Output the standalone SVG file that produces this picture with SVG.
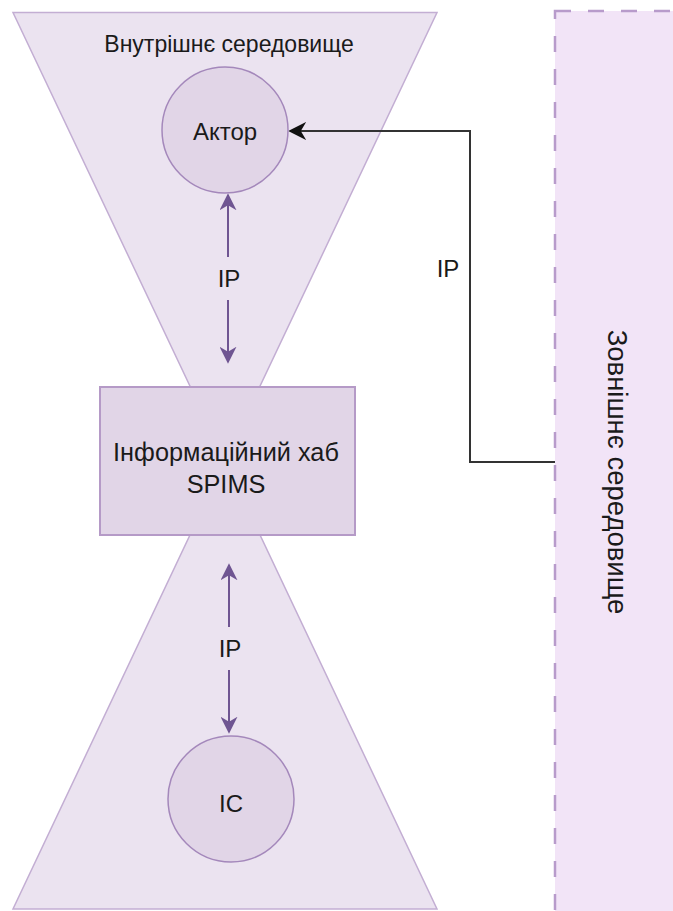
<svg xmlns="http://www.w3.org/2000/svg" width="673" height="911" viewBox="0 0 673 911">
  <style>
    text { font-family: "Liberation Sans", Arial, sans-serif; fill: #1a1a1a; text-anchor: middle; dominant-baseline: central; }
    .zone { fill: #ebe3f0; stroke: #c3aed3; stroke-width: 1.5; }
    .node { fill: #e1d5e7; stroke: #a488bb; stroke-width: 1.5; }
    .hub { fill: #e1d5e7; stroke: #b59ac7; stroke-width: 2; }
    .ext { fill: #f2e4f7; stroke: #b89bcb; stroke-width: 2.5; stroke-dasharray: 16 17; }
    .link { fill: none; stroke: #6f5592; stroke-width: 2; }
    .feed { fill: none; stroke: #333333; stroke-width: 2; }
    .lbl { font-size: 24px; }
  </style>
  <defs>
    <marker id="purpleHead" viewBox="0 0 10 10" refX="9" refY="5" markerWidth="17" markerHeight="17" markerUnits="userSpaceOnUse" orient="auto">
      <path d="M0,0 L10,5 L0,10 L3,5 Z" fill="#6f5592"/>
    </marker>
    <marker id="blackHead" viewBox="0 0 10 10" refX="9" refY="5" markerWidth="18" markerHeight="18" markerUnits="userSpaceOnUse" orient="auto">
      <path d="M0,0 L10,5 L0,10 L3,5 Z" fill="#111111"/>
    </marker>
  </defs>

  <!-- external environment band -->
  <g id="external">
    <rect class="ext" x="555" y="11" width="140" height="920"/>
    <text x="617" y="472" font-size="27.5" transform="rotate(90 617 472)">Зовнішнє середовище</text>
  </g>

  <!-- inner environment funnels -->
  <g id="inner-top">
    <polygon class="zone" points="13,12.5 437,12.5 225,460"/>
    <text x="229" y="44" font-size="23">Внутрішнє середовище</text>
  </g>
  <g id="inner-bottom">
    <polygon class="zone" points="13,909 437,909 225,461"/>
  </g>

  <g id="connectors">
    <path class="link" d="M228,300 V362" marker-end="url(#purpleHead)"/>
    <path class="link" d="M228,257 V195" marker-end="url(#purpleHead)"/>
    <path class="link" d="M229,670 V732" marker-end="url(#purpleHead)"/>
    <path class="link" d="M229,627 V565" marker-end="url(#purpleHead)"/>
    <path class="feed" d="M555,462 H470 V131 H290" marker-end="url(#blackHead)"/>
    <text class="lbl" x="448" y="268">IP</text>
    <text class="lbl" x="229" y="278">IP</text>
    <text class="lbl" x="230" y="648">IP</text>
  </g>

  <g id="actor">
    <circle class="node" cx="225" cy="130" r="63"/>
    <text class="lbl" x="225" y="131">Актор</text>
  </g>

  <g id="hub">
    <rect class="hub" x="100" y="387" width="255" height="148"/>
    <text x="226" y="452" font-size="25.3">Інформаційний хаб</text>
    <text x="226" y="484" font-size="25.3">SPIMS</text>
  </g>

  <g id="ic">
    <circle class="node" cx="231" cy="799" r="63"/>
    <text class="lbl" x="231" y="803">IC</text>
  </g>
</svg>
